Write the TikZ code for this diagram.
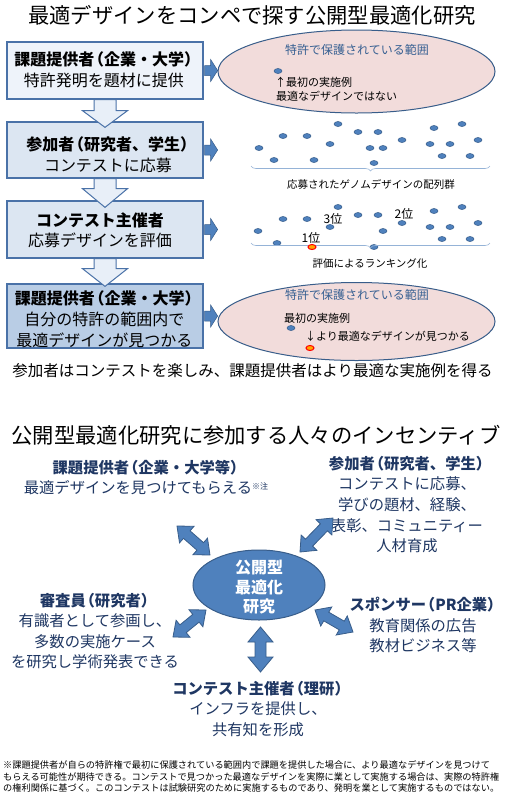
\documentclass[tikz,border=0pt]{standalone}
\usepackage{fontspec}
\setmainfont{Noto Sans CJK JP}
\usetikzlibrary{shapes.geometric,calc,decorations.pathreplacing}
\definecolor{bord}{HTML}{4A72A8}
\definecolor{boxA}{HTML}{EEF3FA}
\definecolor{boxB}{HTML}{DCE6F2}
\definecolor{boxC}{HTML}{B9CDE5}
\definecolor{arrfill}{HTML}{E8EFF8}
\definecolor{accent}{HTML}{4F81BD}
\definecolor{accentdk}{HTML}{385D8A}
\definecolor{pinkfill}{HTML}{F2DCDB}
\definecolor{hdrblue}{HTML}{376092}
\definecolor{navy}{HTML}{1F3763}
\definecolor{brkcol}{HTML}{95B3D7}
\newcommand\lp{\makebox[0.6em][r]{（}}
\newcommand\rp{\makebox[0.6em][l]{）}}
\newcommand\dblarr[5]{%
  \path let \p1=($(#2)-(#1)$) in \pgfextra{%
    \pgfmathsetmacro\tmpL{veclen(\x1,\y1)}\global\let\arrL\tmpL
    \pgfmathsetmacro\tmpA{atan2(\y1,\x1)}\global\let\arrA\tmpA};
  \begin{scope}[shift={(#1)},rotate=\arrA]
    \draw[dblstyle] (0pt,0pt) -- (#3pt,#4pt) -- (#3pt,#5pt) -- ({\arrL pt-#3pt},#5pt)
      -- ({\arrL pt-#3pt},#4pt) -- (\arrL pt,0pt) -- ({\arrL pt-#3pt},-#4pt)
      -- ({\arrL pt-#3pt},-#5pt) -- (#3pt,-#5pt) -- (#3pt,-#4pt) -- cycle;
  \end{scope}}
\newcommand\bdown[4]{% top node, bottom node, shaft length, tip offset
  \draw[downarr] ($(#1.south)+(-11,0)$) -- ($(#1.south)+(11,0)$) -- ($(#1.south)+(11,#3)$)
    -- ($(#1.south)+(22.5,#3)$) -- ($(#2.north)+(0,#4)$) -- ($(#1.south)+(-22.5,#3)$)
    -- ($(#1.south)+(-11,#3)$) -- cycle;}
\newcommand\rarr[1]{%
  \draw[smallarr] ($(#1.east)+(1,-5)$) -- ++(6,0) -- ++(0,-6) -- ++(7,11) -- ++(-7,11)
    -- ++(0,-6) -- ++(-6,0) -- cycle;}
\begin{document}
\begin{tikzpicture}[x=1pt,y=-1pt,
  box/.style={draw=bord,line width=1.3pt,minimum width=196pt,inner sep=0pt},
  btxt/.style={align=center,inner sep=0pt,font=\fontsize{16}{20.5}\selectfont},
  downarr/.style={draw=bord,fill=arrfill,line width=1pt,line join=miter},
  smallarr/.style={draw=accentdk,fill=accent,line width=0.5pt},
  pinkell/.style={ellipse,draw=accentdk,fill=pinkfill,line width=1pt,inner sep=0pt},
  hdr/.style={inner sep=0pt,text=hdrblue,font=\fontsize{12}{14}\selectfont},
  small/.style={inner sep=0pt,font=\fontsize{11}{13}\selectfont},
  lbl/.style={inner sep=0pt,font=\fontsize{10.5}{12}\selectfont},
  rank/.style={inner sep=0pt,font=\fontsize{12}{14}\selectfont},
  dot/.style={draw=accentdk,fill=accent,line width=0.5pt},
  reddot/.style={draw=red,fill=orange!70!yellow,line width=1pt},
  brk/.style={draw=brkcol,line width=0.6pt,decorate,decoration={brace,amplitude=5pt}},
  ttl/.style={inner sep=0pt,font=\fontsize{21.3}{24}\selectfont},
  inc/.style={align=center,inner sep=0pt,text=navy,font=\fontsize{15.3}{20.6}\selectfont},
  dblstyle/.style={draw=accentdk,fill=accent,line width=0.8pt,line join=miter},
  core/.style={ellipse,draw=accentdk,fill=accent,line width=1pt,inner sep=0pt,
    minimum width=132pt,minimum height=70pt},
  foot/.style={anchor=west,inner sep=0pt,font=\fontsize{9.2}{11}\selectfont}]
\useasboundingbox[fill=white] (0,0) rectangle (512,796);

% ---------- upper part ----------
\node[ttl] (title1) at (252,15) {最適デザインをコンペで探す公開型最適化研究};

\node[box,fill=boxA,minimum height=57pt] (b1) at (105,70.5) {};
\node[box,fill=boxB,minimum height=56pt] (b2) at (105,150) {};
\node[box,fill=boxB,minimum height=57pt] (b3) at (105,229.5) {};
\node[box,fill=boxC,minimum height=64pt] (b4) at (105,316) {};

\bdown{b1}{b2}{11}{6}
\bdown{b2}{b3}{10}{7}
\bdown{b3}{b4}{10}{3}

\node[btxt] (b1t) at (104,70) {\textbf{課題提供者\lp 企業・大学\rp}\\特許発明を題材に提供};
\node[btxt] (b2t) at (108,155) {\textbf{参加者\lp 研究者、学生\rp}\\コンテストに応募};
\node[btxt] (b3t) at (100,230.5) {\textbf{コンテスト主催者}\\応募デザインを評価};
\node[btxt,font=\fontsize{16}{21}\selectfont] (b4t) at (104.5,319) {\textbf{課題提供者\lp 企業・大学\rp}\\自分の特許の範囲内で\\最適デザインが見つかる};

\rarr{b1}
\rarr{b2}
\rarr{b3}
\rarr{b4}

% ellipse 1
\node[pinkell,minimum width=277pt,minimum height=83pt] (e1) at (356.5,71.5) {};
\node[hdr] (e1h) at (357,50) {特許で保護されている範囲};
\draw[dot] (278,71) ellipse (4 and 2.5);
\node[small,anchor=west] (e1a) at (275,82) {↑最初の実施例};
\node[small,anchor=west] (e1b) at (276,96) {最適なデザインではない};

% dots: submitted designs
\foreach \p in {(338,124),(283,136),(307,136),(358,132),(378,132),(434,128),(462,124),
  (259,148),(330,144),(370,148),(383,148),(402,140),(430,144),(450,144),(478,140),
  (274,160),(314,160),(374,163),(442,156),(470,156)}
  \draw[dot] \p ellipse (4 and 2.5);
\draw[brk] (490,166) -- (251,166);
\node[lbl] (l1) at (371,184) {応募されたゲノムデザインの配列群};

% dots: ranking
\foreach \p in {(338,207),(283,219),(307,219),(358,215),(378,215),(434,211),(462,207),
  (258,231),(330,227),(383,231),(402,223),(430,227),(450,227),(478,223),
  (277,243),(374,247),(442,239),(470,239)}
  \draw[dot] \p ellipse (4 and 2.5);
\draw[brk] (490,243) -- (251,243);
\draw[reddot] (312,247) ellipse (4 and 2.5);
\node[rank] (r3) at (333,219) {3位};
\node[rank] (r2) at (404,214) {2位};
\node[rank] (r1) at (311,238) {1位};
\node[lbl] (l2) at (370,263) {評価によるランキング化};

% ellipse 2
\node[pinkell,minimum width=277pt,minimum height=78pt] (e2) at (356.5,321.5) {};
\node[hdr] (e2h) at (357,295) {特許で保護されている範囲};
\node[small,anchor=west] (e2a) at (284,318) {最初の実施例};
\draw[dot] (291,328) ellipse (4 and 2.5);
\node[small,anchor=west] (e2b) at (305,336) {↓より最適なデザインが見つかる};
\draw[reddot] (310,348) ellipse (4 and 2.5);

\node[inner sep=0pt,font=\fontsize{15.5}{18}\selectfont] (summary) at (252.5,371)
  {参加者はコンテストを楽しみ、課題提供者はより最適な実施例を得る};

% ---------- lower part ----------
\node[ttl] (title2) at (256,435) {公開型最適化研究に参加する人々のインセンティブ};

\node[core] (core) at (259,585) {};
\node[align=center,inner sep=0pt,text=white,font=\bfseries\fontsize{16}{19.5}\selectfont] (coret) at (259,587.5) {公開型\\最適化\\研究};

\node[inc] (prov) at (146,477.5) {\textbf{課題提供者\lp 企業・大学等\rp}\\最適デザインを見つけてもらえる\raisebox{0.55ex}{\fontsize{8}{8}\selectfont ※注}};
\node[inc] (part) at (407,504.5) {\textbf{参加者\lp 研究者、学生\rp}\\コンテストに応募、\\学びの題材、経験、\\表彰、コミュニティー\\人材育成};
\node[inc] (judge) at (95,631) {\textbf{審査員\lp 研究者\rp}\\有識者として参画し、\\多数の実施ケース\\を研究し学術発表できる};
\node[inc] (spons) at (423,625) {\textbf{スポンサー\lp PR企業\rp}\\教育関係の広告\\教材ビジネス等};
\node[inc] (host) at (258,709) {\textbf{コンテスト主催者\lp 理研\rp}\\インフラを提供し、\\共有知を形成};

\coordinate (ul1) at (177,526);
\coordinate (ul2) at (210,555);
\coordinate (ur1) at (333,518);
\coordinate (ur2) at (300,552);
\coordinate (ll1) at (173,637);
\coordinate (ll2) at (206,610);
\coordinate (lr1) at (315,610);
\coordinate (lr2) at (353,632);
\coordinate (bt1) at (260.5,627);
\coordinate (bt2) at (260.5,672);
\dblarr{ul1}{ul2}{13}{11}{5}
\dblarr{ur1}{ur2}{13}{11}{5}
\dblarr{ll1}{ll2}{13}{11}{5}
\dblarr{lr1}{lr2}{13}{11}{5}
\dblarr{bt1}{bt2}{15}{12.5}{5.5}

\node[foot] (f1) at (3,765) {※課題提供者が自らの特許権で最初に保護されている範囲内で課題を提供した場合に、より最適なデザインを見つけて};
\node[foot] (f2) at (3,777) {もらえる可能性が期待できる。コンテストで見つかった最適なデザインを実際に業として実施する場合は、実際の特許権};
\node[foot] (f3) at (3,788) {の権利関係に基づく。このコンテストは試験研究のために実施するものであり、発明を業として実施するものではない。};
\end{tikzpicture}
\end{document}
